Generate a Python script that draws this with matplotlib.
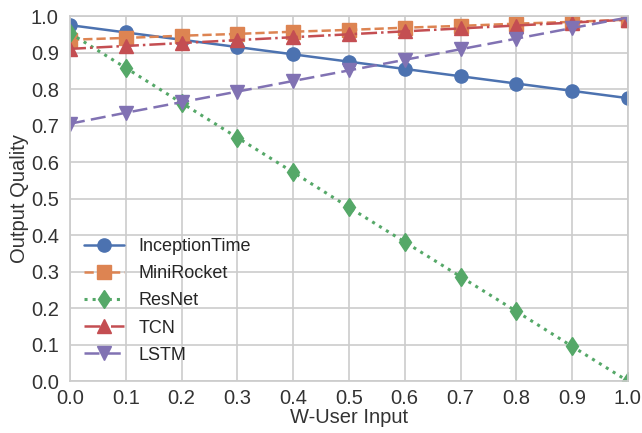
import numpy as np
import matplotlib
matplotlib.use("Agg")
import matplotlib.pyplot as plt
import seaborn as sns

# W-User Input sweep and output quality per model
w_input = [0.0, 0.1, 0.2, 0.3, 0.4, 0.5, 0.6, 0.7, 0.8, 0.9, 1.0]
inception = [0.975, 0.955, 0.935, 0.915, 0.895, 0.875, 0.855, 0.835, 0.815, 0.795, 0.775]
minirocket = [0.935, 0.940, 0.946, 0.951, 0.957, 0.962, 0.968, 0.973, 0.979, 0.984, 0.990]
resnet = [0.953, 0.858, 0.762, 0.667, 0.572, 0.476, 0.381, 0.286, 0.191, 0.095, 0.0]
tcn = [0.910, 0.918, 0.926, 0.934, 0.942, 0.950, 0.958, 0.966, 0.974, 0.982, 0.990]
lstm = [0.705, 0.735, 0.764, 0.793, 0.822, 0.851, 0.880, 0.909, 0.938, 0.967, 0.996]

sns.set_theme(style="whitegrid")
plt.rcParams["font.family"] = ["Liberation Sans", "DejaVu Sans"]

pal = sns.color_palette("deep")
series = [
    ("InceptionTime", inception, pal[0], "-", "o"),
    ("MiniRocket", minirocket, pal[1], "--", "s"),
    ("ResNet", resnet, pal[2], ":", "d"),
    ("TCN", tcn, pal[3], "-.", "^"),
    ("LSTM", lstm, pal[4], (0, (6, 2.5)), "v"),
]

fig = plt.figure(figsize=(6.42, 4.33), dpi=100)
ax = fig.add_axes([0.109, 0.12, 0.869, 0.843])

for name, vals, col, ls, mk in series:
    lw = 2.2 if ls == ":" else 1.8
    ax.plot(w_input, vals, color=col, linestyle=ls, marker=mk, markersize=9.5,
            linewidth=lw, label=name)

ax.set_xlim(0, 1.0)
ax.set_ylim(0, 1.0)
ax.set_xticks(np.arange(0, 1.01, 0.1))
ax.set_yticks(np.arange(0, 1.01, 0.1))
ax.xaxis.set_major_formatter(matplotlib.ticker.FormatStrFormatter("%.1f"))
ax.yaxis.set_major_formatter(matplotlib.ticker.FormatStrFormatter("%.1f"))
ax.tick_params(axis="x", labelsize=14.5, pad=0, colors="#333333")
ax.tick_params(axis="y", labelsize=14.5, pad=2, colors="#333333")
ax.set_xlabel("W-User Input", fontsize=14.5, color="#333333", labelpad=0)
ax.set_ylabel("Output Quality", fontsize=14.5, color="#333333", labelpad=1)
for sp in ax.spines.values():
    sp.set_color("#cccccc")
ax.grid(color="#cccccc", linewidth=1.2)

ax.legend(loc="lower left", bbox_to_anchor=(0.0, 0.008), frameon=False,
          fontsize=13, handlelength=2.2, labelspacing=0.56, borderaxespad=0.4)

fig.savefig("out.png", dpi=100)
